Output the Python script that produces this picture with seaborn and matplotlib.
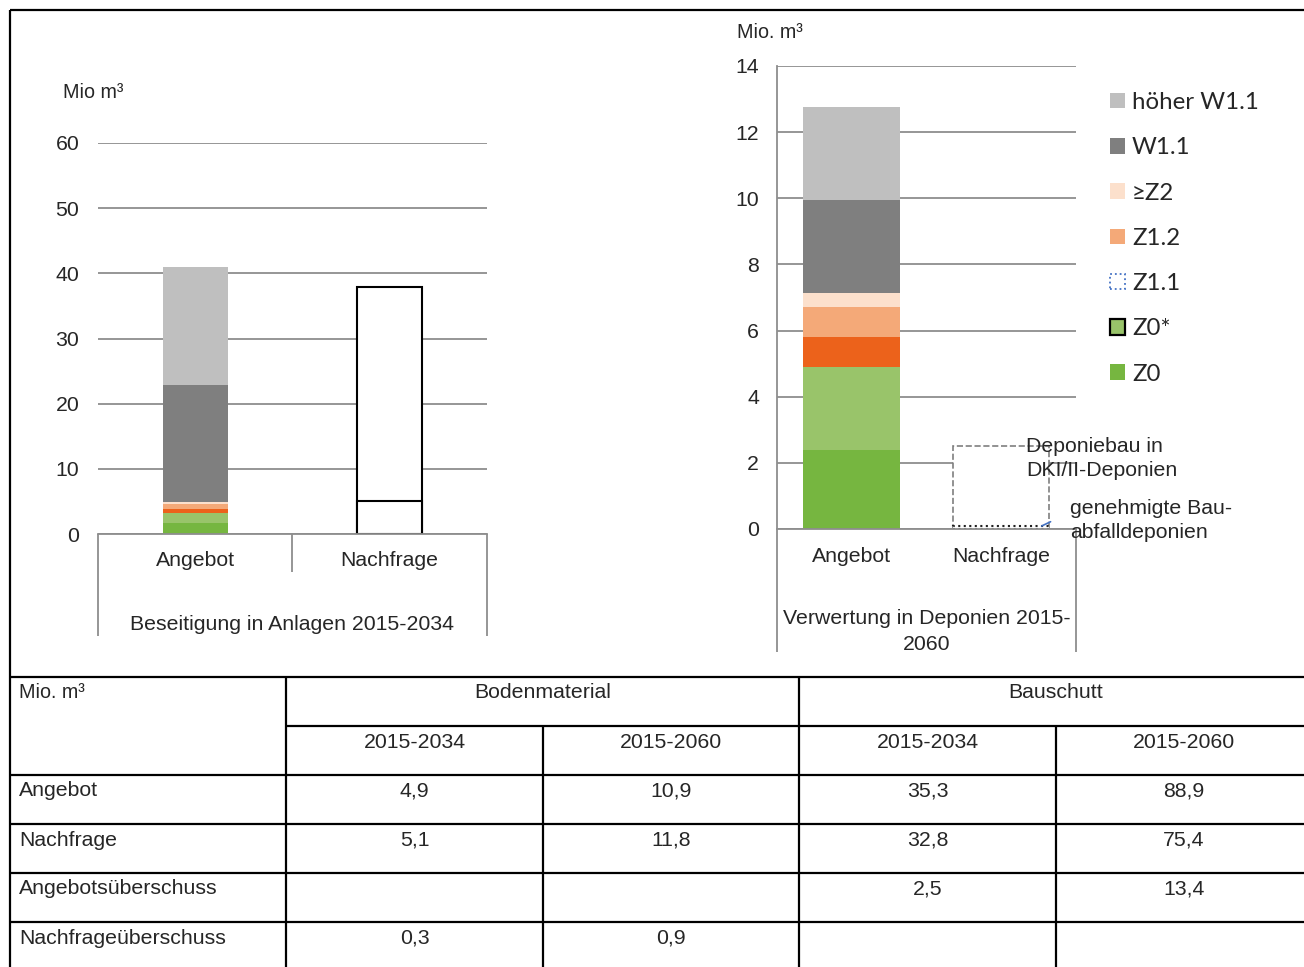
import matplotlib
matplotlib.use("Agg")
import matplotlib.pyplot as plt
from matplotlib.lines import Line2D
from matplotlib.patches import Patch
import seaborn as sns
import pandas as pd

# ---------------- data ----------------
categories = ["Angebot", "Nachfrage"]
series_names = ["Z0", "Z0*", "Z1.1", "Z1.2", "≥Z2", "W1.1", "höher W1.1"]
series_colors = ["#76B640", "#99C46A", "#EC621B", "#F4A978", "#FCE0CC", "#7F7F7F", "#BFBFBF"]

left_angebot = [1.7, 1.5, 0.65, 0.75, 0.3, 18.0, 18.1]
left_nachfrage = [5.1, 32.8]
right_angebot = [2.4, 2.5, 0.9, 0.9, 0.45, 2.8, 2.8]
right_nachfrage = [0.1, 2.4]

left_yticks = [0, 10, 20, 30, 40, 50, 60]
right_yticks = [0, 2, 4, 6, 8, 10, 12, 14]
left_group = "Beseitigung in Anlagen 2015-2034"
right_group = ["Verwertung in Deponien 2015-", "2060"]

table_groups = ["Bodenmaterial", "Bauschutt"]
table_periods = ["2015-2034", "2015-2060", "2015-2034", "2015-2060"]
table_rows = ["Angebot", "Nachfrage", "Angebotsüberschuss", "Nachfrageüberschuss"]
table_values = [["4,9", "10,9", "35,3", "88,9"],
                ["5,1", "11,8", "32,8", "75,4"],
                ["", "", "2,5", "13,4"],
                ["0,3", "0,9", "", ""]]

# ---------------- style ----------------
sns.set_style("white")
plt.rcParams["font.family"] = ["Liberation Sans", "DejaVu Sans"]
FS = 15.3
GRID = "#8E8E8E"

W, H = 1304, 967
fig = plt.figure(figsize=(W / 100, H / 100), dpi=100)


def fx(x):
    return x / W


def fy(y):
    return 1 - y / H


def fline(x0, y0, x1, y1, color="black", lw=1.5, ls="-"):
    fig.add_artist(Line2D([fx(x0), fx(x1)], [fy(y0), fy(y1)], transform=fig.transFigure,
                          color=color, lw=lw, ls=ls, solid_capstyle="butt"))


def ftext(x, y, s, ha="left", va="center", size=FS, **kw):
    fig.text(fx(x), fy(y + 2), s, ha=ha, va=va, fontsize=size, **kw)


def stacked(ax, cat, values, width):
    cums = pd.Series(values).cumsum().tolist()
    for i in range(len(values) - 1, -1, -1):
        df = pd.DataFrame({"cat": [cat], "val": [cums[i]]})
        sns.barplot(data=df, x="cat", y="val", order=categories, color=series_colors[i],
                    saturation=1, width=width, linewidth=0, errorbar=None, ax=ax)


def hollow(ax, cat, values, width, edges, styles, lws):
    cums = pd.Series(values).cumsum().tolist()
    for i in range(len(values) - 1, -1, -1):
        df = pd.DataFrame({"cat": [cat], "val": [cums[i]]})
        sns.barplot(data=df, x="cat", y="val", order=categories, color="white",
                    saturation=1, width=width, edgecolor=edges[i], linestyle=styles[i],
                    linewidth=lws[i], errorbar=None, ax=ax)


def style_axis(ax, ylim, yticks, show_left):
    ax.set_ylim(*ylim)
    ax.set_xlim(-0.5, 1.5)
    ax.set_yticks(yticks)
    ax.yaxis.grid(True, color=GRID, lw=1.3)
    ax.xaxis.grid(False)
    ax.set_axisbelow(True)
    for s in ["top", "right"]:
        ax.spines[s].set_visible(False)
    ax.spines["left"].set_visible(show_left)
    ax.spines["left"].set_color(GRID)
    ax.spines["left"].set_linewidth(1.3)
    ax.spines["bottom"].set_color(GRID)
    ax.spines["bottom"].set_linewidth(1.3)
    ax.tick_params(axis="both", length=0, labelsize=FS)
    ax.set_xlabel("")
    ax.set_ylabel("")
    ax.patch.set_alpha(0)


# ---------------- left chart ----------------
axL = fig.add_axes([fx(98), fy(534), (487 - 98) / W, (534 - 143) / H])
stacked(axL, "Angebot", left_angebot, 0.334)
hollow(axL, "Nachfrage", left_nachfrage, 0.334, ["black", "black"], ["-", "-"], [1.5, 1.5])
style_axis(axL, (0, 60), left_yticks, False)
axL.tick_params(axis="y", pad=13.5)
axL.tick_params(axis="x", pad=12)

fline(98, 534, 98, 636, GRID, 1.3)
fline(292, 534, 292, 572, GRID, 1.3)
fline(487, 534, 487, 636, GRID, 1.3)
ftext(292, 623, left_group, ha="center")
ftext(63, 91, "Mio m³", size=FS * 0.93)

# ---------------- right chart ----------------
axR = fig.add_axes([fx(777), fy(529), (1076 - 777) / W, (529 - 66) / H])
stacked(axR, "Angebot", right_angebot, 0.65)
hollow(axR, "Nachfrage", right_nachfrage, 0.645, ["#202020", "#7F7F7F"], [":", "--"], [1.5, 1.2])
style_axis(axR, (0, 14), right_yticks, True)
axR.tick_params(axis="y", pad=13)
axR.tick_params(axis="x", pad=13)
axR.plot([1.27, 1.33], [0.09, 0.22], color="#4472C4", lw=1.2)

fline(777, 529, 777, 652, GRID, 1.3)
fline(1076, 529, 1076, 652, GRID, 1.3)
ftext(927, 617, right_group[0], ha="center")
ftext(927, 643, right_group[1], ha="center")
ftext(737, 30, "Mio. m³", size=FS * 0.93)

ftext(1026, 445, "Deponiebau in")
ftext(1026, 469, "DKI/II-Deponien")
ftext(1070, 507, "genehmigte Bau-")
ftext(1070, 531, "abfalldeponien")

# legend
handles = []
for name, col in zip(series_names[::-1], series_colors[::-1]):
    if name == "Z1.1":
        handles.append(Patch(facecolor="white", edgecolor="#4472C4", linestyle=":", lw=1.3, label=name))
    elif name == "Z0*":
        handles.append(Patch(facecolor=col, edgecolor="black", lw=1.6, label=name))
    else:
        handles.append(Patch(facecolor=col, edgecolor="none", label=name))
fig.legend(handles=handles, loc="upper left", bbox_to_anchor=(fx(1110), fy(92)),
           frameon=False, prop={"family": ["Lato", "DejaVu Sans"], "size": 17.3},
           handlelength=0.62, handleheight=0.62, handletextpad=0.3, labelspacing=1.01,
           borderpad=0, borderaxespad=0)

# ---------------- frame and table ----------------
fline(10, 10, 1304, 10, "black", 1.6)
fline(10, 10, 10, 967, "black", 1.6)
for y in [677, 775, 824, 873, 922]:
    fline(10, y, 1304, y, "black", 1.6)
fline(286, 726, 1304, 726, "black", 1.6)
for x in [286, 799]:
    fline(x, 677, x, 967, "black", 1.6)
for x in [543, 1056]:
    fline(x, 726, x, 967, "black", 1.6)

ftext(19, 690, "Mio. m³", size=FS * 0.93)
ftext(542.5, 690, table_groups[0], ha="center")
ftext(1056, 690, table_groups[1], ha="center")
col_centers = [414.5, 671, 927.5, 1184]
for cx, p in zip(col_centers, table_periods):
    ftext(cx, 740, p, ha="center")
row_y = [789, 838, 887, 936]
for ry, rname, vals in zip(row_y, table_rows, table_values):
    ftext(19, ry, rname)
    for cx, v in zip(col_centers, vals):
        if v:
            ftext(cx, ry, v, ha="center")

fig.savefig("out.png", dpi=100)
